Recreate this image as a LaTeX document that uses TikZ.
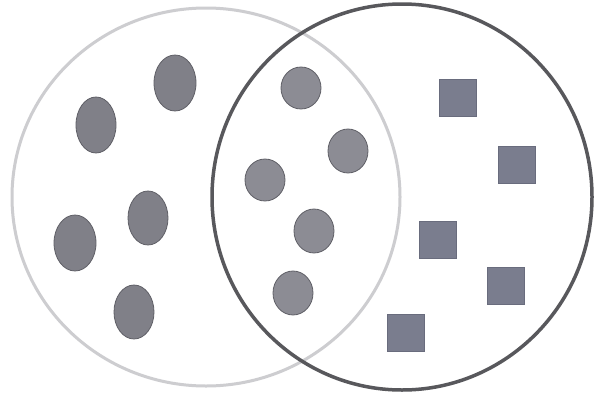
\documentclass[tikz,border=0pt]{standalone}
\definecolor{blobfill}{RGB}{128,128,136}
\definecolor{rblobfill}{RGB}{140,140,148}
\definecolor{blobedge}{RGB}{95,95,102}
\definecolor{sqfill}{RGB}{122,125,142}
\definecolor{sqedge}{RGB}{105,108,125}
\definecolor{lightring}{RGB}{205,205,208}
\definecolor{darkring}{RGB}{88,88,92}
\begin{document}
\begin{tikzpicture}[x=1pt,y=-1pt,
  blob/.style={fill=blobfill, draw=blobedge, line width=0.8pt},
  rblob/.style={fill=rblobfill, draw=blobedge, line width=0.8pt},
  sq/.style={fill=sqfill, draw=sqedge, line width=0.5pt, minimum size=37pt, inner sep=0pt, rectangle}]
\useasboundingbox (0,0) rectangle (596,394);
\fill[white] (0,0) rectangle (596,394);
\draw[lightring, line width=3pt] (206,197) ellipse [x radius=194, y radius=189];
\draw[darkring, line width=3.5pt] (402,197) ellipse [x radius=190, y radius=193];
% left-only ellipses
\fill[blob] (175,83) ellipse [x radius=21, y radius=28];
\fill[blob] (96,125) ellipse [x radius=20, y radius=28];
\fill[blob] (148,218) ellipse [x radius=20, y radius=27];
\fill[blob] (75,243) ellipse [x radius=21, y radius=28];
\fill[blob] (134,312) ellipse [x radius=20, y radius=27];
% overlap ellipses
\fill[rblob] (301,88) ellipse [x radius=20, y radius=21];
\fill[rblob] (348,151) ellipse [x radius=20, y radius=22];
\fill[rblob] (265,180) ellipse [x radius=20, y radius=21];
\fill[rblob] (314,231) ellipse [x radius=20, y radius=22];
\fill[rblob] (293,293) ellipse [x radius=20, y radius=22];
% squares
\node[sq] (s1) at (458,98) {};
\node[sq] (s2) at (517,165) {};
\node[sq] (s3) at (438,240) {};
\node[sq] (s4) at (506,286) {};
\node[sq] (s5) at (406,333) {};
\end{tikzpicture}
\end{document}
